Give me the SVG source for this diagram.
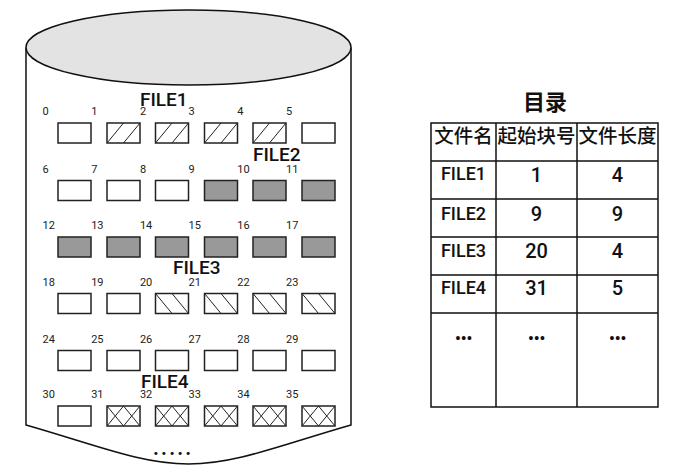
<svg xmlns="http://www.w3.org/2000/svg" xmlns:xlink="http://www.w3.org/1999/xlink" width="677" height="465" viewBox="0 0 677 465">
<style>
.bx{fill:#fff;stroke:#222;stroke-width:1.5}
.gy{fill:#999;stroke:#222;stroke-width:1.5}
.ht{fill:none;stroke:#222;stroke-width:1}
.num{font-family:Roboto,"Liberation Sans",sans-serif;font-size:11px;fill:#222}
.fl{font-family:Roboto,"Liberation Sans",sans-serif;font-size:19px;font-weight:500;fill:#111}
.tl{fill:none;stroke:#111;stroke-width:1.5}
.th{font-family:Roboto,"Noto Sans CJK SC",sans-serif;font-size:19.5px;font-weight:500;fill:#111;text-anchor:middle}
.tc{font-family:Roboto,"Liberation Sans",sans-serif;font-size:18px;font-weight:500;fill:#111;text-anchor:middle}
.tn{font-family:Roboto,"Liberation Sans",sans-serif;font-size:20px;font-weight:500;fill:#111;text-anchor:middle}
.td{font-family:Roboto,"Liberation Sans",sans-serif;font-size:16px;font-weight:bold;fill:#111;text-anchor:middle}
.cyl{fill:none;stroke:#111;stroke-width:1.5}
</style>
<defs>
<path id="hF" class="ht" d="M0,20 L16.5,0 M16.5,20 L33,0"/>
<path id="hB" class="ht" d="M0,0 L16.5,20 M16.5,0 L33,20"/>
<path id="hX" class="ht" d="M0,0 L16.5,20 M16.5,0 L33,20 M16.5,0 L0,20 M33,0 L16.5,20"/>
</defs>

<g id="disk">
<path class="cyl" d="M26,47.5 L26,425 C96,445 141,464 188.5,464 C236,464 281,445 351,425 L351,47.5"/>
<ellipse cx="188.5" cy="47.5" rx="162.5" ry="37.5" fill="#e3e3e3" stroke="#111" stroke-width="1.5"/>
<text x="153.5" y="457.5" font-family="Roboto,'Liberation Sans',sans-serif" font-size="13" font-weight="bold" letter-spacing="3.4" fill="#111">•••••</text>
</g>

<g id="labels">
<text class="fl" x="140" y="105.5">FILE1</text>
<text class="fl" x="253" y="161">FILE2</text>
<text class="fl" x="173" y="274">FILE3</text>
<text class="fl" x="141" y="387.5">FILE4</text>
</g>

<g id="row0">
<g id="b0"><text class="num" x="42.5" y="115">0</text><rect class="bx" x="58" y="123" width="33" height="20"/></g>
<g id="b1"><text class="num" x="91.2" y="115">1</text><rect class="bx" x="107" y="123" width="33" height="20"/><use xlink:href="#hF" x="107" y="123"/></g>
<g id="b2"><text class="num" x="139.9" y="115">2</text><rect class="bx" x="155.5" y="123" width="33" height="20"/><use xlink:href="#hF" x="155.5" y="123"/></g>
<g id="b3"><text class="num" x="188.6" y="115">3</text><rect class="bx" x="204.5" y="123" width="33" height="20"/><use xlink:href="#hF" x="204.5" y="123"/></g>
<g id="b4"><text class="num" x="237.3" y="115">4</text><rect class="bx" x="253" y="123" width="33" height="20"/><use xlink:href="#hF" x="253" y="123"/></g>
<g id="b5"><text class="num" x="286" y="115">5</text><rect class="bx" x="302" y="123" width="33" height="20"/></g>
</g>

<g id="row1">
<g id="b6"><text class="num" x="42.5" y="172.5">6</text><rect class="bx" x="58" y="180.5" width="33" height="20"/></g>
<g id="b7"><text class="num" x="91.2" y="172.5">7</text><rect class="bx" x="107" y="180.5" width="33" height="20"/></g>
<g id="b8"><text class="num" x="139.9" y="172.5">8</text><rect class="bx" x="155.5" y="180.5" width="33" height="20"/></g>
<g id="b9"><text class="num" x="188.6" y="172.5">9</text><rect class="gy" x="204.5" y="180.5" width="33" height="20"/></g>
<g id="b10"><text class="num" x="237.3" y="172.5">10</text><rect class="gy" x="253" y="180.5" width="33" height="20"/></g>
<g id="b11"><text class="num" x="286" y="172.5">11</text><rect class="gy" x="302" y="180.5" width="33" height="20"/></g>
</g>

<g id="row2">
<g id="b12"><text class="num" x="42.5" y="229">12</text><rect class="gy" x="58" y="237" width="33" height="20"/></g>
<g id="b13"><text class="num" x="91.2" y="229">13</text><rect class="gy" x="107" y="237" width="33" height="20"/></g>
<g id="b14"><text class="num" x="139.9" y="229">14</text><rect class="gy" x="155.5" y="237" width="33" height="20"/></g>
<g id="b15"><text class="num" x="188.6" y="229">15</text><rect class="gy" x="204.5" y="237" width="33" height="20"/></g>
<g id="b16"><text class="num" x="237.3" y="229">16</text><rect class="gy" x="253" y="237" width="33" height="20"/></g>
<g id="b17"><text class="num" x="286" y="229">17</text><rect class="gy" x="302" y="237" width="33" height="20"/></g>
</g>

<g id="row3">
<g id="b18"><text class="num" x="42.5" y="285.5">18</text><rect class="bx" x="58" y="293.5" width="33" height="20"/></g>
<g id="b19"><text class="num" x="91.2" y="285.5">19</text><rect class="bx" x="107" y="293.5" width="33" height="20"/></g>
<g id="b20"><text class="num" x="139.9" y="285.5">20</text><rect class="bx" x="155.5" y="293.5" width="33" height="20"/><use xlink:href="#hB" x="155.5" y="293.5"/></g>
<g id="b21"><text class="num" x="188.6" y="285.5">21</text><rect class="bx" x="204.5" y="293.5" width="33" height="20"/><use xlink:href="#hB" x="204.5" y="293.5"/></g>
<g id="b22"><text class="num" x="237.3" y="285.5">22</text><rect class="bx" x="253" y="293.5" width="33" height="20"/><use xlink:href="#hB" x="253" y="293.5"/></g>
<g id="b23"><text class="num" x="286" y="285.5">23</text><rect class="bx" x="302" y="293.5" width="33" height="20"/><use xlink:href="#hB" x="302" y="293.5"/></g>
</g>

<g id="row4">
<g id="b24"><text class="num" x="42.5" y="342.5">24</text><rect class="bx" x="58" y="350.5" width="33" height="20"/></g>
<g id="b25"><text class="num" x="91.2" y="342.5">25</text><rect class="bx" x="107" y="350.5" width="33" height="20"/></g>
<g id="b26"><text class="num" x="139.9" y="342.5">26</text><rect class="bx" x="155.5" y="350.5" width="33" height="20"/></g>
<g id="b27"><text class="num" x="188.6" y="342.5">27</text><rect class="bx" x="204.5" y="350.5" width="33" height="20"/></g>
<g id="b28"><text class="num" x="237.3" y="342.5">28</text><rect class="bx" x="253" y="350.5" width="33" height="20"/></g>
<g id="b29"><text class="num" x="286" y="342.5">29</text><rect class="bx" x="302" y="350.5" width="33" height="20"/></g>
</g>

<g id="row5">
<g id="b30"><text class="num" x="42.5" y="398">30</text><rect class="bx" x="58" y="406" width="33" height="20"/></g>
<g id="b31"><text class="num" x="91.2" y="398">31</text><rect class="bx" x="107" y="406" width="33" height="20"/><use xlink:href="#hX" x="107" y="406"/></g>
<g id="b32"><text class="num" x="139.9" y="398">32</text><rect class="bx" x="155.5" y="406" width="33" height="20"/><use xlink:href="#hX" x="155.5" y="406"/></g>
<g id="b33"><text class="num" x="188.6" y="398">33</text><rect class="bx" x="204.5" y="406" width="33" height="20"/><use xlink:href="#hX" x="204.5" y="406"/></g>
<g id="b34"><text class="num" x="237.3" y="398">34</text><rect class="bx" x="253" y="406" width="33" height="20"/><use xlink:href="#hX" x="253" y="406"/></g>
<g id="b35"><text class="num" x="286" y="398">35</text><rect class="bx" x="302" y="406" width="33" height="20"/><use xlink:href="#hX" x="302" y="406"/></g>
</g>

<g id="directory">
<text x="545" y="110" font-family="Roboto,'Noto Sans CJK SC',sans-serif" font-size="22" font-weight="bold" fill="#111" text-anchor="middle">目录</text>
<rect class="tl" x="431" y="123" width="227" height="284"/>
<path class="tl" d="M496,123 V407 M577,123 V407 M431,161 H658 M431,199 H658 M431,237 H658 M431,275 H658 M431,313 H658"/>
<text class="th" x="463.5" y="143">文件名</text>
<text class="th" x="536.5" y="143">起始块号</text>
<text class="th" x="617.5" y="143">文件长度</text>
<text class="tc" x="463.5" y="180">FILE1</text>
<text class="tn" x="536.5" y="182">1</text>
<text class="tn" x="617.5" y="182">4</text>
<text class="tc" x="463.5" y="220">FILE2</text>
<text class="tn" x="536.5" y="220.5">9</text>
<text class="tn" x="617.5" y="220.5">9</text>
<text class="tc" x="463.5" y="257">FILE3</text>
<text class="tn" x="536.5" y="258">20</text>
<text class="tn" x="617.5" y="258">4</text>
<text class="tc" x="463.5" y="293.5">FILE4</text>
<text class="tn" x="536.5" y="295">31</text>
<text class="tn" x="617.5" y="295">5</text>
<text class="td" x="463.5" y="343.5">•••</text>
<text class="td" x="536.5" y="343.5">•••</text>
<text class="td" x="617.5" y="343.5">•••</text>
</g>
</svg>
